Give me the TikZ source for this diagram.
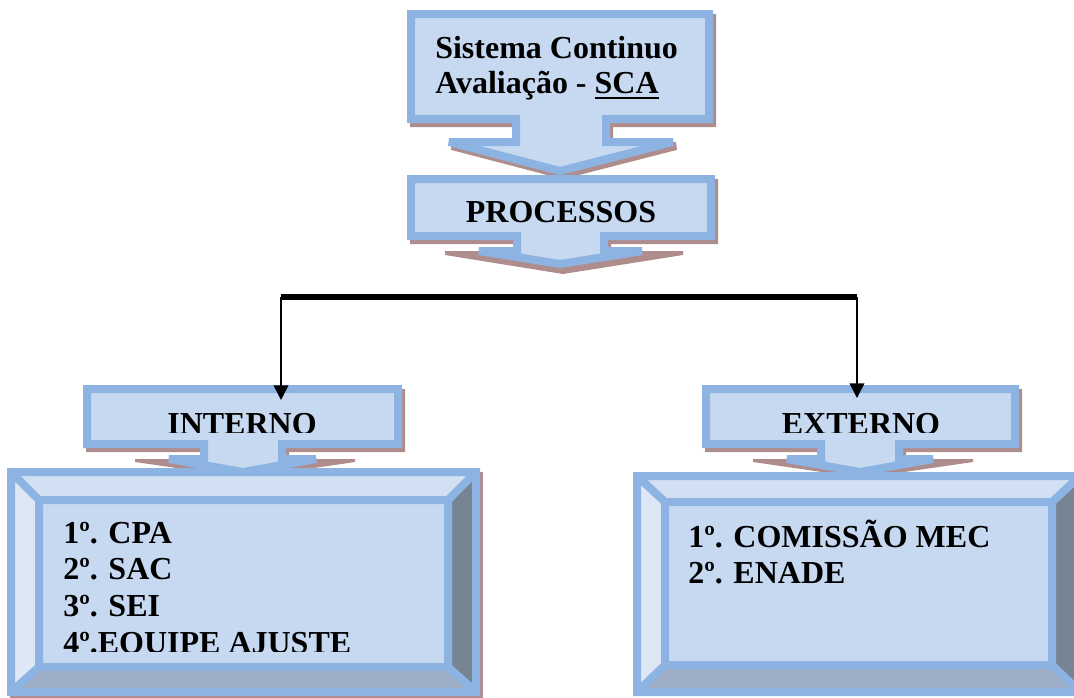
\documentclass[tikz,border=0pt]{standalone}
\usepackage{fontspec}
\setmainfont{Liberation Serif}
\usetikzlibrary{arrows.meta}
\definecolor{cfill}{HTML}{C6D9F1}
\definecolor{cline}{HTML}{8DB3E2}
\definecolor{cshadow}{RGB}{176,141,141}
\definecolor{bvtop}{RGB}{210,224,244}
\definecolor{bvleft}{RGB}{221,231,245}
\definecolor{bvright}{RGB}{118,132,148}
\definecolor{bvbottom}{RGB}{158,174,198}
\newcommand\myul[1]{\setbox0\hbox{#1}\rlap{\rule[-4.6pt]{\wd0}{1.7pt}}\box0}
\begin{document}
\begin{tikzpicture}[x=0.75pt,y=-0.75pt,
  callout/.style={fill=cfill, draw=cline, line width=6pt, miter limit=2},
  shade/.style={fill=cshadow},
  bevline/.style={draw=cline, line width=6pt, miter limit=2},
  txt/.style={inner sep=0pt, font=\fontsize{24}{28}\selectfont\bfseries, anchor=base west},
  ctxt/.style={txt, anchor=base},
  bar/.style={line width=5.2pt},
  conn/.style={line width=1.1pt, -{Triangle[width=11pt,length=11pt]}}]
\useasboundingbox (0,0) rectangle (1074,697);
\clip (0,0) rectangle (1074,697);

% top callout
\begin{scope}[shift={(3,4)}]
\path[shade, draw=cshadow, line width=6pt, miter limit=2] (411,14) -- (709,14) -- (709,119) -- (606,119) -- (606,142) -- (673,142) -- (560,171) -- (449,142) -- (516,142) -- (516,119) -- (411,119) -- cycle;
\end{scope}
\path[callout] (411,14) -- (709,14) -- (709,119) -- (606,119) -- (606,142) -- (673,142) -- (560,171) -- (449,142) -- (516,142) -- (516,119) -- (411,119) -- cycle;

% PROCESSOS callout
\path[shade] (410,179) -- (718,179) -- (718,244) -- (611,244) -- (611,251) -- (683,251) -- (683,255) -- (563,274) -- (445,255) -- (445,251) -- (516,251) -- (516,244) -- (410,244) -- cycle;
\path[callout] (411,179) -- (711,179) -- (711,236) -- (604,236) -- (604,251) -- (642,251) -- (560,264) -- (479,251) -- (517,251) -- (517,236) -- (411,236) -- cycle;

% INTERNO callout
\path[shade] (86,389) -- (405,389) -- (405,452) -- (289,452) -- (289,459) -- (355,459) -- (355,462) -- (246,478) -- (135,462) -- (135,459) -- (203,459) -- (203,452) -- (86,452) -- cycle;
\path[callout] (87,389) -- (398,389) -- (398,444) -- (282,444) -- (282,459) -- (316,459) -- (243,472) -- (169,459) -- (204,459) -- (204,444) -- (87,444) -- cycle;

% EXTERNO callout
\path[shade] (705,389) -- (1022,389) -- (1022,452) -- (906,452) -- (906,459) -- (973,459) -- (973,462) -- (863,478) -- (753,462) -- (753,459) -- (820,459) -- (820,452) -- (705,452) -- cycle;
\path[callout] (706,389) -- (1015,389) -- (1015,444) -- (899,444) -- (899,459) -- (933,459) -- (860,472) -- (787,459) -- (821,459) -- (821,444) -- (706,444) -- cycle;

% INTERNO bevel
\fill[cshadow] (10,472) rectangle (483,700);
\fill[cfill] (11,472) rectangle (476,692);
\fill[bvtop] (11,472) -- (476,472) -- (448,500) -- (39,500) -- cycle;
\fill[bvleft] (11,472) -- (39,500) -- (39,667) -- (11,692) -- cycle;
\fill[bvright] (476,472) -- (476,692) -- (448,667) -- (448,500) -- cycle;
\fill[bvbottom] (11,692) -- (39,667) -- (448,667) -- (476,692) -- cycle;
\path[bevline] (11,472) rectangle (476,692) (39,500) rectangle (448,667)
  (11,472) -- (39,500) (476,472) -- (448,500) (11,692) -- (39,667) (476,692) -- (448,667);

% EXTERNO bevel
\fill[cfill] (637,476) rectangle (1080,692);
\fill[bvtop] (637,476) -- (1080,476) -- (1052,502) -- (665,502) -- cycle;
\fill[bvleft] (637,476) -- (665,502) -- (665,665) -- (637,692) -- cycle;
\fill[bvright] (1080,476) -- (1080,692) -- (1052,665) -- (1052,502) -- cycle;
\fill[bvbottom] (637,692) -- (665,665) -- (1052,665) -- (1080,692) -- cycle;
\path[bevline] (637,476) rectangle (1080,692) (665,502) rectangle (1052,665)
  (637,476) -- (665,502) (1080,476) -- (1052,502) (637,692) -- (665,665) (1080,692) -- (1052,665);

% texts
\node[txt] (sca1) at (435,58) {Sistema Continuo};
\node[txt] (sca2) at (435,93) {Avaliação - \myul{SCA}};
\node[ctxt] (proc) at (561,222) {PROCESSOS};
\begin{scope}
\clip (100,395) rectangle (390,432);
\node[ctxt] (intl) at (242,434) {INTERNO};
\end{scope}
\begin{scope}
\clip (715,395) rectangle (1010,432);
\node[ctxt] (extl) at (861,434) {EXTERNO};
\end{scope}
\node[txt] (int1) at (63,543) {1º. CPA};
\node[txt] (int2) at (63,579) {2º. SAC};
\node[txt] (int3) at (63,616) {3º. SEI};
\begin{scope}
\clip (50,600) rectangle (440,651.5);
\node[txt] (int4) at (63,653) {4º.EQUIPE AJUSTE};
\end{scope}
\node[txt] (ext1) at (688,547) {1º. COMISSÃO MEC};
\node[txt] (ext2) at (688,583) {2º. ENADE};

% connectors
\coordinate (barL) at (281,297);
\coordinate (barR) at (857,297);
\coordinate (intIn) at (281,400);
\coordinate (extIn) at (857,398);
\draw[bar] (barL) -- (barR);
\draw[conn] (barL) -- (intIn);
\draw[conn] (barR) -- (extIn);
\end{tikzpicture}
\end{document}
